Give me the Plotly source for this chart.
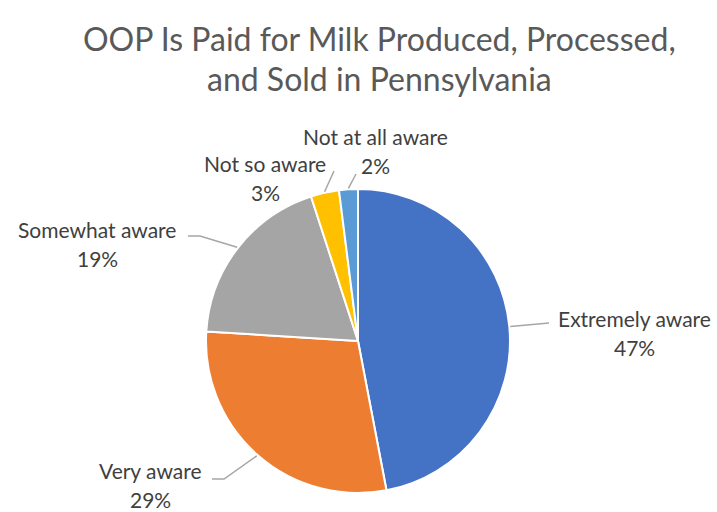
import math
import plotly.graph_objects as go

# Survey responses: awareness that OOP is paid for PA milk
categories = ["Extremely aware", "Very aware", "Somewhat aware", "Not so aware", "Not at all aware"]
shares = [47, 29, 19, 3, 2]
colors = ["#4472C4", "#ED7D31", "#A5A5A5", "#FFC000", "#5B9BD5"]

W, H = 717, 512
CX, CY, R = 358, 341, 152  # pie centre and radius in pixels

# Label anchor (centre of first text line) and leader-line elbow, in pixels
label_pos = [(634, 318), (150, 470), (97, 229), (265, 163), (375, 136)]
elbows = [[(549, 323)], [(224, 479), (212, 479)], [(200, 236), (188, 236)], [(334, 171)], [(356, 174)]]

FONT = "Lato"
TEXT = "#404040"

fig = go.Figure()
fig.add_trace(go.Pie(
    labels=categories,
    values=shares,
    sort=False,
    direction="clockwise",
    rotation=0,
    marker=dict(colors=colors, line=dict(color="white", width=2)),
    textinfo="none",
    hoverinfo="label+percent",
    showlegend=False,
    domain=dict(x=[(CX - R) / W, (CX + R) / W], y=[(H - CY - R) / H, (H - CY + R) / H]),
))

# Invisible pixel-space axes for labels and leader lines
fig.add_trace(go.Scatter(x=[0, W], y=[0, H], mode="markers", marker=dict(opacity=0), hoverinfo="skip", showlegend=False))

total = sum(shares)
cum = 0
shapes, annotations = [], []
for name, v, (lx, ly), elbow in zip(categories, shares, label_pos, elbows):
    mid = (cum + v / 2) / total * 2 * math.pi
    cum += v
    sx = CX + (R + 1) * math.sin(mid)
    sy = CY - (R + 1) * math.cos(mid)
    pts = [(sx, sy)] + elbow
    path = "M " + " L ".join(f"{x:.1f},{y:.1f}" for x, y in pts)
    shapes.append(dict(type="path", path=path, xref="x", yref="y",
                       line=dict(color="#A6A6A6", width=1.5)))
    pct = round(v / total * 100)
    annotations.append(dict(x=lx, y=ly, xref="x", yref="y", text=name, showarrow=False,
                            font=dict(family=FONT, size=21, color=TEXT), xanchor="center", yanchor="middle"))
    annotations.append(dict(x=lx, y=ly + 29, xref="x", yref="y", text=f"{pct}%", showarrow=False,
                            font=dict(family=FONT, size=21, color=TEXT), xanchor="center", yanchor="middle"))

annotations.append(dict(x=379, y=38, xref="x", yref="y", text="OOP Is Paid for Milk Produced, Processed,",
                        showarrow=False, font=dict(family=FONT, size=32, color="#595959"),
                        xanchor="center", yanchor="middle"))
annotations.append(dict(x=379, y=78, xref="x", yref="y", text="and Sold in Pennsylvania",
                        showarrow=False, font=dict(family=FONT, size=32, color="#595959"),
                        xanchor="center", yanchor="middle"))

fig.update_layout(
    width=W, height=H,
    margin=dict(l=0, r=0, t=0, b=0),
    paper_bgcolor="white", plot_bgcolor="rgba(0,0,0,0)",
    xaxis=dict(range=[0, W], domain=[0, 1], visible=False, fixedrange=True),
    yaxis=dict(range=[H, 0], domain=[0, 1], visible=False, fixedrange=True),
    shapes=shapes,
    annotations=annotations,
)

fig.write_html("out.html")
